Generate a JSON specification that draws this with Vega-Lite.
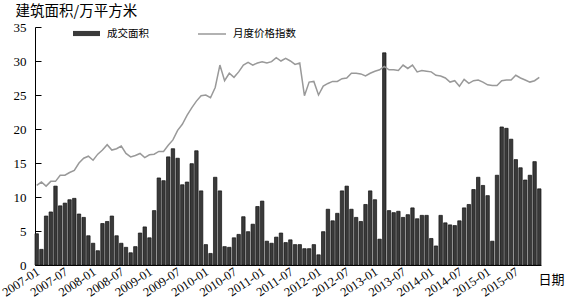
{
  "$schema": "https://vega.github.io/schema/vega-lite/v6.json",
  "width": 506,
  "height": 238,
  "autosize": {"type": "none"},
  "padding": {"left": 35, "top": 27, "right": 25, "bottom": 36},
  "background": "white",
  "config": {"view": {"stroke": null}},
  "data": {"values": [
    {"m":"2007-01","area":4.6,"price":11.7},{"m":"2007-02","area":2.3,"price":12.2},{"m":"2007-03","area":7.2,"price":11.6},{"m":"2007-04","area":7.8,"price":12.3},{"m":"2007-05","area":11.6,"price":12.3},{"m":"2007-06","area":8.7,"price":13.2},{"m":"2007-07","area":9.1,"price":13.2},{"m":"2007-08","area":9.6,"price":13.6},{"m":"2007-09","area":9.8,"price":13.9},{"m":"2007-10","area":7.5,"price":15.0},{"m":"2007-11","area":7.0,"price":15.7},{"m":"2007-12","area":4.3,"price":16.0},
    {"m":"2008-01","area":3.2,"price":15.4},{"m":"2008-02","area":2.1,"price":16.3},{"m":"2008-03","area":6.1,"price":16.9},{"m":"2008-04","area":6.4,"price":17.7},{"m":"2008-05","area":7.2,"price":16.9},{"m":"2008-06","area":4.3,"price":17.1},{"m":"2008-07","area":3.2,"price":17.5},{"m":"2008-08","area":2.6,"price":16.4},{"m":"2008-09","area":1.8,"price":15.9},{"m":"2008-10","area":2.7,"price":16.1},{"m":"2008-11","area":4.7,"price":16.4},{"m":"2008-12","area":5.6,"price":15.8},
    {"m":"2009-01","area":4.0,"price":16.2},{"m":"2009-02","area":8.0,"price":16.3},{"m":"2009-03","area":12.8,"price":16.7},{"m":"2009-04","area":12.4,"price":16.7},{"m":"2009-05","area":15.9,"price":17.6},{"m":"2009-06","area":17.1,"price":18.4},{"m":"2009-07","area":15.7,"price":19.8},{"m":"2009-08","area":11.8,"price":20.7},{"m":"2009-09","area":12.2,"price":22.0},{"m":"2009-10","area":14.9,"price":23.1},{"m":"2009-11","area":16.8,"price":24.1},{"m":"2009-12","area":10.9,"price":24.9},
    {"m":"2010-01","area":3.0,"price":25.0},{"m":"2010-02","area":1.7,"price":24.6},{"m":"2010-03","area":12.9,"price":26.1},{"m":"2010-04","area":10.9,"price":29.4},{"m":"2010-05","area":2.7,"price":27.1},{"m":"2010-06","area":2.6,"price":28.2},{"m":"2010-07","area":4.0,"price":27.6},{"m":"2010-08","area":4.5,"price":28.4},{"m":"2010-09","area":7.1,"price":29.4},{"m":"2010-10","area":4.9,"price":29.8},{"m":"2010-11","area":6.0,"price":29.4},{"m":"2010-12","area":8.6,"price":29.7},
    {"m":"2011-01","area":9.4,"price":29.9},{"m":"2011-02","area":3.5,"price":29.7},{"m":"2011-03","area":3.2,"price":29.9},{"m":"2011-04","area":4.1,"price":30.5},{"m":"2011-05","area":4.7,"price":30.0},{"m":"2011-06","area":3.3,"price":30.4},{"m":"2011-07","area":3.7,"price":30.0},{"m":"2011-08","area":3.0,"price":29.5},{"m":"2011-09","area":3.0,"price":29.7},{"m":"2011-10","area":2.4,"price":24.9},{"m":"2011-11","area":2.4,"price":26.9},{"m":"2011-12","area":3.0,"price":27.0},
    {"m":"2012-01","area":1.5,"price":25.0},{"m":"2012-02","area":4.9,"price":26.3},{"m":"2012-03","area":8.2,"price":26.7},{"m":"2012-04","area":6.5,"price":27.0},{"m":"2012-05","area":7.6,"price":27.0},{"m":"2012-06","area":10.9,"price":27.4},{"m":"2012-07","area":11.6,"price":27.5},{"m":"2012-08","area":8.2,"price":28.2},{"m":"2012-09","area":7.0,"price":28.2},{"m":"2012-10","area":6.4,"price":28.1},{"m":"2012-11","area":8.9,"price":27.8},{"m":"2012-12","area":10.9,"price":28.2},
    {"m":"2013-01","area":9.6,"price":28.5},{"m":"2013-02","area":3.8,"price":28.7},{"m":"2013-03","area":31.2,"price":29.2},{"m":"2013-04","area":8.0,"price":28.7},{"m":"2013-05","area":7.7,"price":28.7},{"m":"2013-06","area":7.9,"price":28.6},{"m":"2013-07","area":7.0,"price":29.4},{"m":"2013-08","area":7.4,"price":28.9},{"m":"2013-09","area":8.4,"price":29.4},{"m":"2013-10","area":6.8,"price":28.4},{"m":"2013-11","area":7.3,"price":28.6},{"m":"2013-12","area":7.3,"price":28.5},
    {"m":"2014-01","area":3.9,"price":28.4},{"m":"2014-02","area":2.8,"price":27.9},{"m":"2014-03","area":7.3,"price":27.8},{"m":"2014-04","area":6.2,"price":27.5},{"m":"2014-05","area":5.9,"price":26.9},{"m":"2014-06","area":5.8,"price":27.1},{"m":"2014-07","area":6.5,"price":26.3},{"m":"2014-08","area":8.4,"price":27.3},{"m":"2014-09","area":8.9,"price":26.7},{"m":"2014-10","area":11.1,"price":27.1},{"m":"2014-11","area":12.9,"price":27.2},{"m":"2014-12","area":11.7,"price":26.9},
    {"m":"2015-01","area":10.2,"price":26.5},{"m":"2015-02","area":3.5,"price":26.4},{"m":"2015-03","area":13.2,"price":26.4},{"m":"2015-04","area":20.3,"price":27.1},{"m":"2015-05","area":20.1,"price":27.2},{"m":"2015-06","area":18.5,"price":27.2},{"m":"2015-07","area":15.5,"price":27.9},{"m":"2015-08","area":14.3,"price":27.5},{"m":"2015-09","area":12.5,"price":27.2},{"m":"2015-10","area":13.2,"price":26.9},{"m":"2015-11","area":15.2,"price":27.1},{"m":"2015-12","area":11.2,"price":27.6}
  ]},
  "resolve": {"axis": {"y": "independent"}},
  "layer": [
    {
      "mark": {"type": "bar", "fill": "#3a3a3a", "stroke": "#111111", "strokeWidth": 0.7},
      "encoding": {
        "x": {
          "field": "m", "type": "ordinal", "sort": null,
          "scale": {"paddingInner": 0.27, "paddingOuter": 0},
          "axis": {
            "labelExpr": "(substring(datum.value, 5, 7) == '01' || substring(datum.value, 5, 7) == '07') ? datum.value : ''",
            "labelAngle": -34, "labelAlign": "right", "labelBaseline": "middle",
            "ticks": false, "labelPadding": 5, "labelOverlap": false, "labelBound": false, "labelFlush": false, "labelOffset": 1.5,
            "labelFont": "Liberation Serif", "labelFontSize": 12.5, "labelColor": "#000",
            "domainColor": "#000", "domainWidth": 1,
            "title": "日期", "titleAngle": 0, "titleAlign": "left", "titleBaseline": "alphabetic",
            "titleX": 503, "titleY": 18, "titleFont": "Noto Sans CJK SC", "titleFontSize": 13,
            "titleFontWeight": "normal", "titleColor": "#000"
          }
        },
        "y": {
          "field": "area", "type": "quantitative",
          "scale": {"domain": [0, 35], "nice": false},
          "axis": {
            "values": [0,5,10,15,20,25,30,35], "grid": false, "labelOverlap": false,
            "ticks": false, "labelPadding": 9,
            "labelFont": "Liberation Serif", "labelFontSize": 13, "labelColor": "#000",
            "domainColor": "#000", "domainWidth": 1,
            "title": "建筑面积/万平方米", "titleAngle": 0, "titleAlign": "left", "titleBaseline": "alphabetic",
            "titleX": -20, "titleY": -12, "titleFont": "Noto Sans CJK SC", "titleFontSize": 14.5,
            "titleFontWeight": "normal", "titleColor": "#000"
          }
        },
        "color": {
          "datum": "成交面积",
          "scale": {"range": ["#3a3a3a"]},
          "legend": {
            "orient": "none", "legendX": 38, "legendY": -7, "title": null, "padding": 0,
            "symbolType": "M-1,-0.19H1V0.19H-1Z", "symbolSize": 729, "symbolStrokeWidth": 0,
            "labelFont": "Noto Sans CJK SC", "labelFontSize": 10.5, "labelColor": "#000", "labelOffset": 7,
            "encode": {"symbols": {"update": {"fill": {"value": "#2a2a2a"}, "opacity": {"value": 1}}}}
          }
        }
      }
    },
    {
      "mark": {"type": "line", "strokeWidth": 1.5},
      "encoding": {
        "x": {"field": "m", "type": "ordinal", "sort": null},
        "y": {
          "field": "price", "type": "quantitative",
          "axis": {
            "orient": "left", "offset": -6, "values": [0,5,10,15,20,25,30,35], "grid": false,
            "tickSize": 6, "tickColor": "#000", "tickWidth": 1, "labels": false, "domain": false, "title": null
          }
        },
        "stroke": {
          "datum": "月度价格指数",
          "scale": {"range": ["#999999"]},
          "legend": {
            "orient": "none", "legendX": 162, "legendY": -8, "title": null, "padding": 0,
            "symbolType": "stroke", "symbolSize": 784, "symbolStrokeWidth": 1.5,
            "labelFont": "Noto Sans CJK SC", "labelFontSize": 10.5, "labelColor": "#000", "labelOffset": 6
          }
        }
      }
    }
  ]
}
